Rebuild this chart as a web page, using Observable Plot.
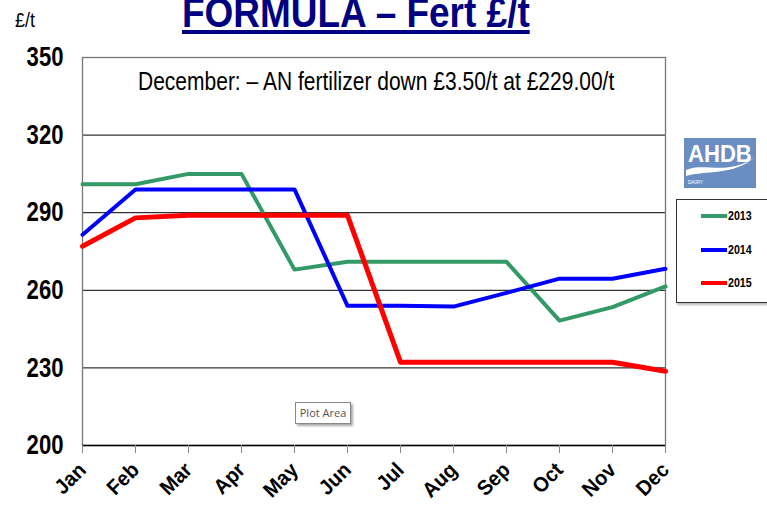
<!DOCTYPE html>
<html>
<head>
<meta charset="utf-8">
<script src="https://cdn.jsdelivr.net/npm/d3@7"></script>
<script src="https://cdn.jsdelivr.net/npm/@observablehq/plot@0.6"></script>
<style>
  html, body { margin: 0; padding: 0; background: #fff; }
  #wrap { position: relative; width: 767px; height: 514px; overflow: hidden; font-family: "Liberation Sans", Arial, sans-serif; }
  #chart { position: absolute; left: 0; top: 0; }
  .ov { position: absolute; white-space: nowrap; transform-origin: 0 0; }
  #title { left: 182px; top: -11px; font-size: 42px; font-weight: bold; color: #000080; text-decoration: underline; text-decoration-thickness: 4px; text-underline-offset: 3px; transform: scaleX(0.88); }
  #unit { left: 15px; top: 8px; font-size: 21px; color: #000; transform: scaleX(0.85); }
  #note { left: 138px; top: 67px; font-size: 25px; color: #000; transform: scaleX(0.84); }
  #logo { left: 684px; top: 138px; width: 72px; height: 50px; background: #6a8ec2; }
  #logo .t { position: absolute; left: 4px; top: 2px; font-size: 24px; font-weight: bold; color: #fff; transform: scaleX(0.92); transform-origin: 0 0; }
  #logo .d { position: absolute; left: 4px; top: 41px; font-size: 5px; color: #fff; }
  #legend { left: 676px; top: 199px; width: 100px; height: 102px; border: 1px solid #333; box-shadow: 1px 2px 2px #bbb; background: #fff; }
  .li { position: absolute; left: 24px; font-size: 13px; font-weight: bold; }
  .li span { display: inline-block; width: 26px; height: 4px; vertical-align: middle; margin-right: 1px; position: relative; top: -1px; }
  .li b { display: inline-block; transform: scaleX(0.82); transform-origin: 0 50%; }
  #plotarea { left: 295px; top: 402px; width: 54px; height: 20px; border: 1px solid #888; background: #fff; box-shadow: 2px 2px 2px #aaa; font-family: "Open Sans", sans-serif; font-size: 11px; color: #555; text-align: center; line-height: 20px; }
  svg text { font-family: "Liberation Sans", Arial, sans-serif; }
  g[aria-label="x-axis tick label"] text, g[aria-label="y-axis tick label"] text { font-weight: bold; fill: #000; }
</style>
</head>
<body>
<div id="wrap">
  <div id="chart"></div>
  <div class="ov" id="title">FORMULA – Fert £/t</div>
  <div class="ov" id="unit">£/t</div>
  <div class="ov" id="note">December: – AN fertilizer down £3.50/t at £229.00/t</div>
  <div class="ov" id="logo"><div class="t">AHDB</div>
    <svg style="position:absolute;left:0;top:0" width="72" height="50"><path d="M2,32 C20,24 42,38 70,20 C48,38 22,32 2,38 Z" fill="#fff"/></svg>
    <div class="d">DAIRY</div></div>
  <div class="ov" id="legend">
    <div class="li" style="top:8px"><span style="background:#339966"></span><b>2013</b></div>
    <div class="li" style="top:42px"><span style="background:#0000ff"></span><b>2014</b></div>
    <div class="li" style="top:75px"><span style="background:#ff0000"></span><b>2015</b></div>
  </div>
  <div class="ov" id="plotarea">Plot Area</div>
</div>
<script>
const months = ["Jan","Feb","Mar","Apr","May","Jun","Jul","Aug","Sep","Oct","Nov","Dec"];
const values2013 = [301, 301, 305, 305, 268, 271, 271, 271, 271, 248.3, 253.5, 261.5];
const values2014 = [281.5, 299, 299, 299, 299, 254, 254, 253.7, 259, 264.5, 264.5, 268.3];
const values2015 = [277, 288, 289, 289, 289, 289, 232.2, 232.2, 232.2, 232.2, 232.2, 228.7];
const gridValues = [230, 260, 290, 320];
const yTicks = [200, 230, 260, 290, 320, 350];

const rows = (vals) => months.map((m, i) => ({month: m, value: vals[i]}));

const chart = Plot.plot({
  width: 767,
  height: 514,
  marginLeft: 82,
  marginRight: 102,
  marginTop: 57,
  marginBottom: 69,
  x: {type: "point", domain: months, padding: 0},
  y: {domain: [200, 350]},
  marks: [
    Plot.ruleY(gridValues, {stroke: "#000", strokeWidth: 1}),
    Plot.frame({stroke: "#777", strokeWidth: 1.3}),
    Plot.ruleY([200], {stroke: "#000", strokeWidth: 1.3}),
    Plot.axisY({ticks: yTicks, tickSize: 0, tickPadding: 19, fontSize: 27, label: null}),
    Plot.axisX({tickSize: 8, tickPadding: 13, tickRotate: -45, fontSize: 21, label: null, stroke: "#888"}),
    Plot.line(rows(values2013), {x: "month", y: "value", stroke: "#339966", strokeWidth: 4}),
    Plot.line(rows(values2014), {x: "month", y: "value", stroke: "#0000ff", strokeWidth: 4}),
    Plot.line(rows(values2015), {x: "month", y: "value", stroke: "#ff0000", strokeWidth: 5})
  ]
});
// condense axis labels (narrow font look)
d3.select(chart).selectAll('g[aria-label="y-axis tick label"] text')
  .attr("transform", function() { return (this.getAttribute("transform") || "") + " scale(0.82,1)"; });
d3.select(chart).selectAll('g[aria-label="x-axis tick label"] text')
  .attr("transform", function() { return (this.getAttribute("transform") || "") + " scale(0.95,1)"; });
document.getElementById("chart").appendChild(chart);
</script>
</body>
</html>
